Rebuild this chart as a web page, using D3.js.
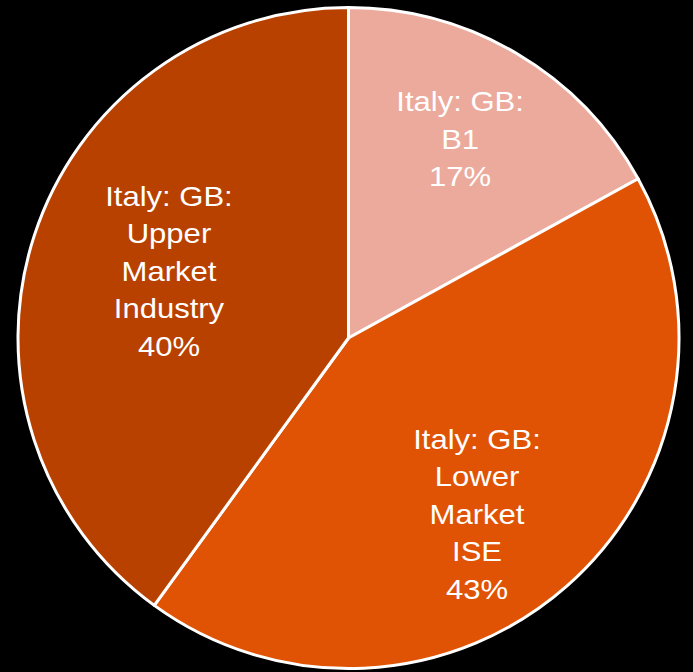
<!DOCTYPE html>
<html><head><meta charset="utf-8">
<script src="https://cdn.jsdelivr.net/npm/d3@7"></script>
<style>html,body{margin:0;padding:0;background:#000;}svg{display:block;}</style>
</head><body>
<script>
const categories = ["Italy: GB: B1", "Italy: GB: Lower Market ISE", "Italy: GB: Upper Market Industry"];
const labelLines = [["Italy: GB:", "B1", "17%"], ["Italy: GB:", "Lower", "Market", "ISE", "43%"], ["Italy: GB:", "Upper", "Market", "Industry", "40%"]];
const values = [17, 43, 40];
const colors = ["#EBAA9C", "#E05305", "#B84100"];

const W = 693, H = 672;
const cx = 348.5, cy = 338, R = 330.5;
// label placement (layout only): radius fraction and angular nudge (degrees) per slice
const labelRadiusFrac = [0.69, 0.66, 0.58];
const labelAngleNudge = [-1.3, 5.3, 2.5];

const svg = d3.select("body").append("svg").attr("width", W).attr("height", H);
svg.append("rect").attr("width", W).attr("height", H).attr("fill", "#000");
const g = svg.append("g").attr("transform", `translate(${cx},${cy})`);

const pie = d3.pie().sort(null).value(d => d)(values);
const arc = d3.arc().innerRadius(0).outerRadius(R);

g.selectAll("path.slice").data(pie).join("path")
  .attr("class", "slice")
  .attr("d", arc)
  .attr("fill", (d, i) => colors[i])
  .attr("stroke", "#fff")
  .attr("stroke-width", 3)
  .attr("stroke-linejoin", "round");

const lh = 37.5;
g.selectAll("text.lbl").data(pie).join("text")
  .attr("class", "lbl")
  .attr("transform", (d, i) => {
    const a = (d.startAngle + d.endAngle) / 2 + labelAngleNudge[i] * Math.PI / 180;
    const r = R * labelRadiusFrac[i];
    return `translate(${r * Math.sin(a)},${-r * Math.cos(a)}) scale(1.15,1)`;
  })
  .attr("text-anchor", "middle")
  .attr("fill", "#fff")
  .style("font-family", "'Liberation Sans', Arial, sans-serif")
  .style("font-size", "27px")
  .each(function(d, i) {
    const lines = labelLines[i];
    const n = lines.length;
    d3.select(this).selectAll("tspan").data(lines).join("tspan")
      .attr("x", 0)
      .attr("y", (t, j) => (j - (n - 1) / 2) * lh)
      .attr("dy", "0.36em")
      .text(t => t);
  });
</script>
</body></html>
